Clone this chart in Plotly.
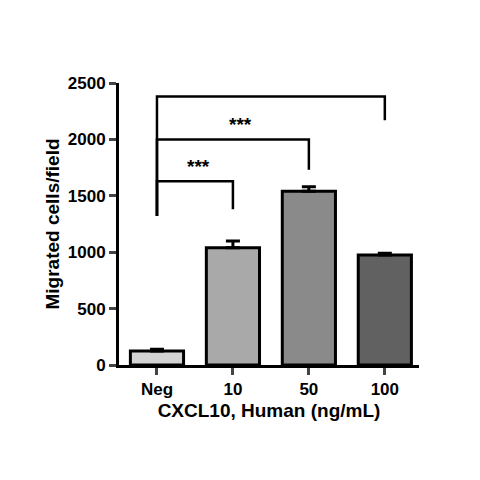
import plotly.graph_objects as go

categories = ["Neg", "10", "50", "100"]
values = [125, 1040, 1540, 975]
errors = [15, 60, 40, 15]
colors = ["#d3d3d3", "#a9a9a9", "#8a8a8a", "#616161"]

# significance brackets: (start, end, top y, left foot y, right foot y)
brackets = [
    (0, 1, 1630, 1320, 1380),
    (0, 2, 2000, 1320, 1730),
    (0, 3, 2380, 1320, 2170),
]
star_y = [1760, 2130, 2510]

fig = go.Figure()
fig.add_trace(go.Bar(
    x=list(range(4)), y=values, width=0.7,
    marker=dict(color=colors, line=dict(color="black", width=3)),
    error_y=dict(type="data", array=errors, arrayminus=[0] * 4,
                 color="black", thickness=3, width=7),
))

for (a, b, top, ya, yb), sy in zip(brackets, star_y):
    fig.add_trace(go.Scatter(x=[a, a, b, b], y=[ya, top, top, yb], mode="lines",
                             line=dict(color="black", width=2.5), hoverinfo="skip"))
    fig.add_annotation(x=(a + b) / 2 + 0.05 * (b - a), y=sy, text="<b>***</b>",
                       showarrow=False, font=dict(size=19, color="black"))

fig.update_layout(
    width=480, height=480, showlegend=False,
    plot_bgcolor="white", paper_bgcolor="white",
    margin=dict(l=111, r=69, t=75, b=123),
    font=dict(family="Liberation Sans, Arial", size=17, color="black"),
    xaxis=dict(range=[-0.5, 3.45], tickvals=list(range(4)), ticktext=["<b>%s</b>" % c for c in categories],
               showline=True, linecolor="black", linewidth=3, ticks="outside",
               ticklen=7, tickwidth=3, showgrid=False, zeroline=False,
               title=dict(text="<b>CXCL10, Human (ng/mL)</b>", font=dict(size=19), standoff=6)),
    yaxis=dict(range=[0, 2500], tickvals=[0, 500, 1000, 1500, 2000, 2500],
               ticktext=["<b>%d</b>" % v for v in [0, 500, 1000, 1500, 2000, 2500]],
               showline=True, linecolor="black", linewidth=3, ticks="outside",
               ticklen=7, tickwidth=3, showgrid=False, zeroline=False,
               title=dict(text="<b>Migrated cells/field</b>", font=dict(size=19), standoff=4)),
)

fig.write_html("out.html")
